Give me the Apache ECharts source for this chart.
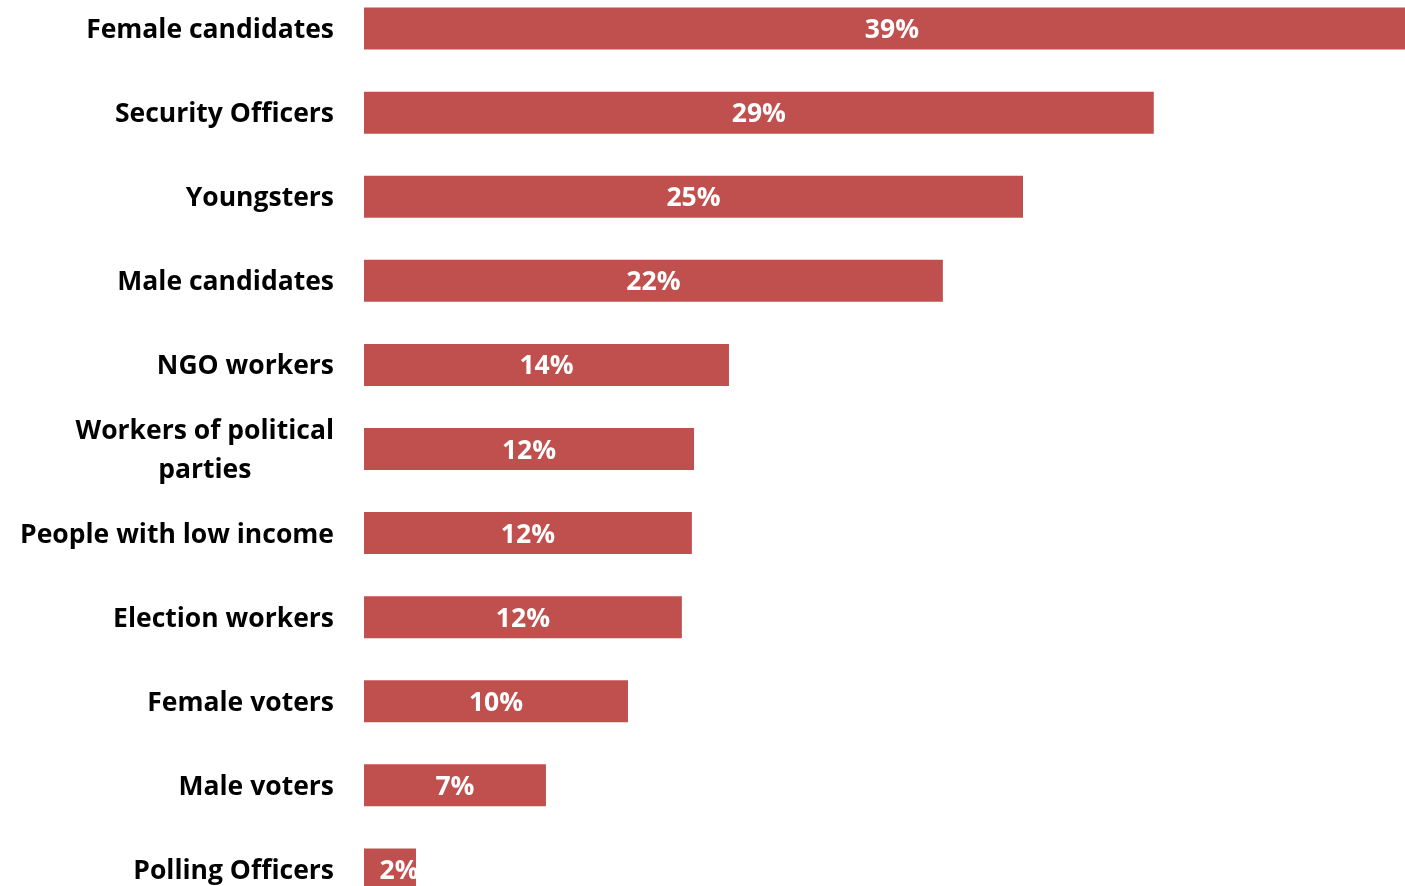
<!DOCTYPE html>
<html>
<head>
<meta charset="utf-8">
<script src="https://cdn.jsdelivr.net/npm/echarts@6/dist/echarts.min.js"></script>
<style>
html,body{margin:0;padding:0;background:#fff;}
#chart{width:1405px;height:886px;}
</style>
</head>
<body>
<div id="chart"></div>
<script>
var categories = [
  'Female candidates',
  'Security Officers',
  'Youngsters',
  'Male candidates',
  'NGO workers',
  'Workers of political\nparties',
  'People with low income',
  'Election workers',
  'Female voters',
  'Male voters',
  'Polling Officers'
];
// bar lengths (percent)
var values = [39.0, 29.17, 24.34, 21.38, 13.48, 12.19, 12.11, 11.74, 9.75, 6.72, 1.92];
// labels shown on the bars
var shownLabels = ['39%', '29%', '25%', '22%', '14%', '12%', '12%', '12%', '10%', '7%', '2%'];

var chart = echarts.init(document.getElementById('chart'), null, {renderer: 'canvas'});
var font = '"Open Sans", Lato, sans-serif';
var fs = 26.5;
var seriesData = values.map(function (v, i) {
  // the last (narrow) bar's label sits slightly right of the bar centre in the reference
  return i === values.length - 1 ? {value: v, label: {offset: [9, 2]}} : v;
});
chart.setOption({
  animation: false,
  grid: {left: 364, top: -13.5, height: 925, width: 1083, containLabel: false, outerBoundsMode: 'none'},
  xAxis: {
    type: 'value', min: 0, max: 40, show: false
  },
  yAxis: {
    type: 'category', data: categories, inverse: true,
    axisLine: {show: false}, axisTick: {show: false}, splitLine: {show: false},
    axisLabel: {
      margin: 30, color: '#000', fontFamily: font, fontWeight: 'bold', fontSize: fs,
      lineHeight: 39, padding: [4, 0, 0, 0],
      formatter: function (v) {
        return v.split('\n').map(function (s) { return '{c|' + s + '}'; }).join('\n');
      },
      rich: {c: {align: 'center', color: '#000', fontFamily: font, fontWeight: 'bold', fontSize: fs, lineHeight: 39}}
    }
  },
  series: [{
    type: 'bar', data: seriesData, barWidth: 42,
    itemStyle: {color: '#C0504D'},
    label: {
      show: true, position: 'inside', color: '#fff', fontFamily: font, fontWeight: 'bold', fontSize: fs,
      offset: [0, 2],
      formatter: function (p) { return shownLabels[p.dataIndex]; }
    }
  }]
});
</script>
</body>
</html>
